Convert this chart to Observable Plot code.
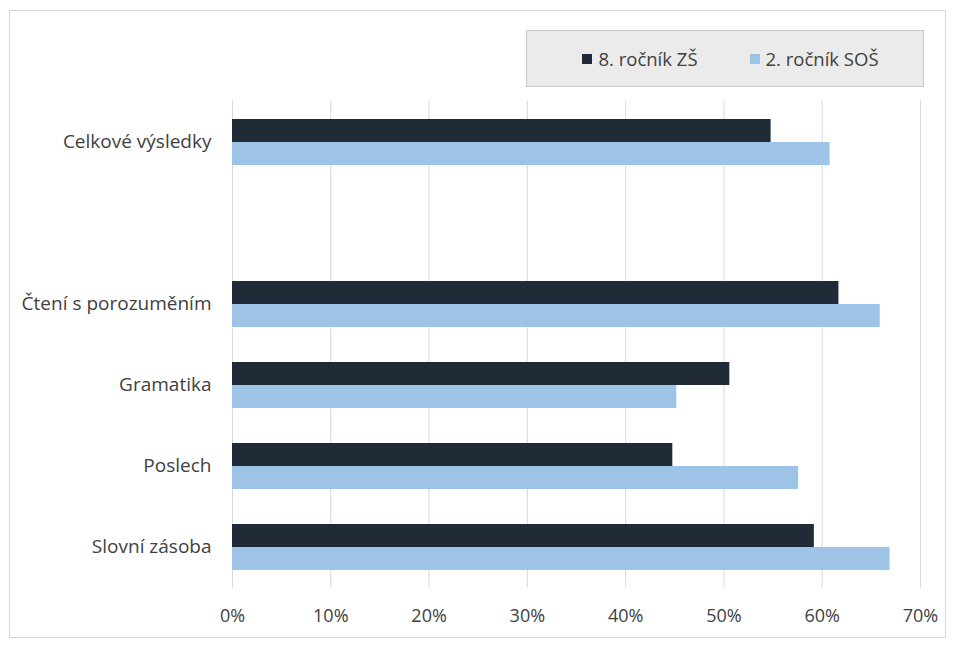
<!DOCTYPE html>
<html>
<head>
<meta charset="utf-8">
<script src="https://cdn.jsdelivr.net/npm/d3@7"></script>
<script src="https://cdn.jsdelivr.net/npm/@observablehq/plot@0.6"></script>
<style>
  body { margin: 0; background: #fff; font-family: "Open Sans", sans-serif; }
  #frame { position: absolute; left: 9px; top: 10px; width: 937px; height: 628px; border: 1px solid #d9d9d9; box-sizing: border-box; }
  #chart { position: absolute; left: 0; top: 0; }
  #legend { position: absolute; left: 526px; top: 30px; width: 398px; height: 57px; box-sizing: border-box;
            background: #ebebeb; border: 1px solid #c9c9c9; display: flex; align-items: center; justify-content: center;
            padding-left: 11px; font-size: 18.5px; color: #404040; z-index: 2; }
  .item { display: flex; align-items: center; }
  .item + .item { margin-left: 52px; }
  .sw { width: 10px; height: 10px; margin-right: 6px; }
  #chart g[aria-label="fy-axis tick label"] text { font-size: 19px; }
</style>
</head>
<body>
<div id="frame"></div>
<div id="chart"></div>
<div id="legend"></div>
<script>
// Data
const categories = ["Celkové výsledky", " ", "Čtení s porozuměním", "Gramatika", "Poslech", "Slovní zásoba"];
const series = ["8. ročník ZŠ", "2. ročník SOŠ"];
const zs8 = [0.548, null, 0.617, 0.506, 0.448, 0.592];
const sos2 = [0.608, null, 0.659, 0.452, 0.576, 0.669];
const xTicks = [0, 0.1, 0.2, 0.3, 0.4, 0.5, 0.6, 0.7];
const colors = ["#212b38", "#9dc3e6"];

const valuesBySeries = [zs8, sos2];
const data = categories.flatMap((c, i) =>
  series.map((s, j) => ({category: c, series: s, value: valuesBySeries[j][i]}))
);

const chart = Plot.plot({
  width: 954,
  height: 646,
  marginTop: 100,
  marginBottom: 58,
  marginLeft: 232,
  marginRight: 34,
  style: {fontFamily: '"Open Sans", sans-serif', fontSize: "18px", color: "#404040", background: "transparent"},
  x: {domain: [0, 0.7], ticks: xTicks, tickFormat: d => Math.round(d * 100) + "%", label: null, tickSize: 0, tickPadding: 22},
  fy: {domain: categories, padding: 0, label: null, axis: "left", tickSize: 0, tickPadding: 21},
  y: {domain: series, paddingInner: 0, paddingOuter: 0.742, axis: null},
  color: {domain: series, range: colors},
  marks: [
    Plot.ruleX(xTicks, {x: d => d, stroke: "#d9d9d9", strokeWidth: 1}),
    Plot.barX(data, {x: "value", y: "series", fy: "category", fill: "series"})
  ]
});
document.getElementById("chart").appendChild(chart);

// Legend
const legend = document.getElementById("legend");
series.forEach((s, i) => {
  const item = document.createElement("div");
  item.className = "item";
  const sw = document.createElement("span");
  sw.className = "sw";
  sw.style.background = colors[i];
  const t = document.createElement("span");
  t.textContent = s;
  item.appendChild(sw);
  item.appendChild(t);
  legend.appendChild(item);
});
</script>
</body>
</html>
